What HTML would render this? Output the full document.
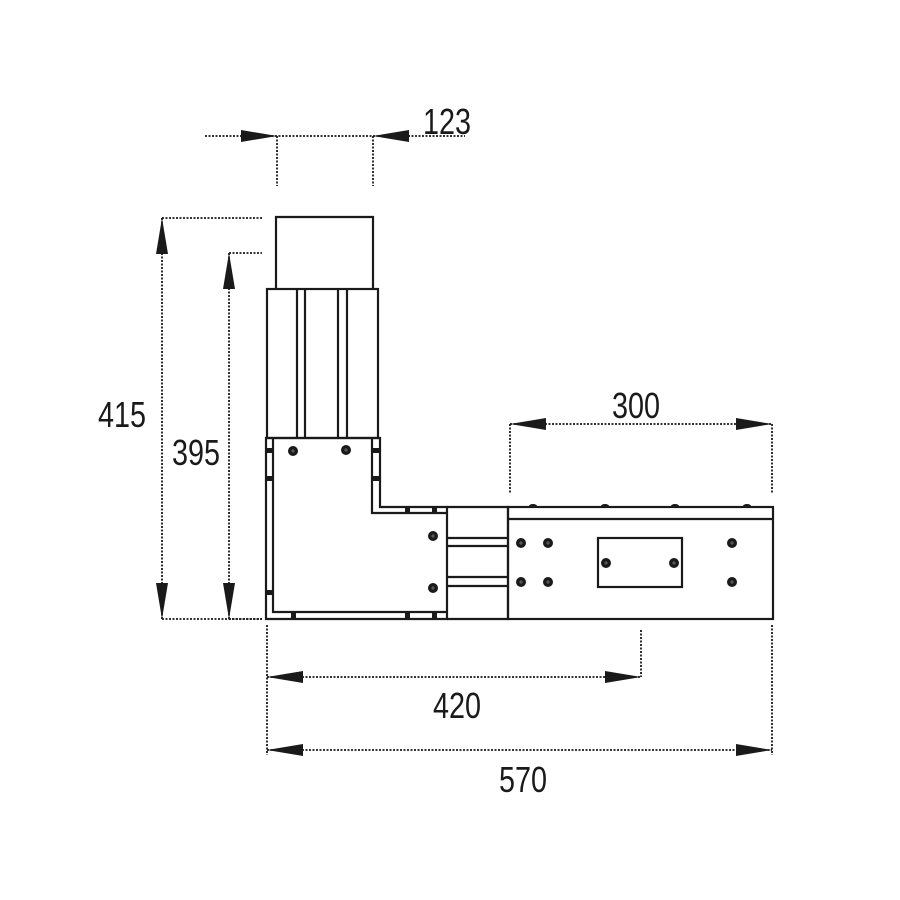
<!DOCTYPE html>
<html><head><meta charset="utf-8"><style>body{margin:0;background:#fff}svg{display:block}</style></head><body>
<svg width="900" height="900" viewBox="0 0 900 900" xmlns="http://www.w3.org/2000/svg">
<defs>
<g id="scr"><circle r="5" fill="#1a1a1a"/><path d="M-2,0H2M0,-2V2" stroke="#777" stroke-width="0.8"/></g>
</defs>
<g fill="none" stroke="#1a1a1a" stroke-width="2.2">
<!-- top cap -->
<path d="M276,289V217H373V289"/>
<!-- column -->
<rect x="267" y="289" width="111" height="149"/>
<path d="M297,289V438M305,289V438M338,289V438M347,289V438"/>
<!-- L outer -->
<path d="M266,438H380V507H447V619H266Z"/>
<path d="M273,438V612H447M372,438V513H447"/>
<!-- connector -->
<path d="M447,507H508V619H447M447,538H508M447,546H508M447,577H508M447,586H508"/>
<!-- right box -->
<rect x="508" y="507" width="265" height="112"/>
<path d="M508,519H773"/>
<rect x="598" y="538" width="84" height="49"/>
</g>
<g fill="#1a1a1a">
<rect x="266" y="448" width="7" height="5"/><rect x="266" y="476" width="7" height="5"/><rect x="266" y="590" width="7" height="5"/>
<rect x="372" y="448" width="8" height="5"/><rect x="372" y="476" width="8" height="5"/>
<rect x="405" y="507" width="5" height="6"/><rect x="432" y="507" width="5" height="6"/>
<rect x="291" y="612" width="5" height="7"/><rect x="405" y="612" width="5" height="7"/><rect x="432" y="612" width="5" height="7"/>
<ellipse cx="533" cy="506" rx="4" ry="2"/><ellipse cx="605" cy="506" rx="4" ry="2"/><ellipse cx="675" cy="506" rx="4" ry="2"/><ellipse cx="747" cy="506" rx="4" ry="2"/>
</g>
<use href="#scr" x="293" y="451"/><use href="#scr" x="346" y="450"/>
<use href="#scr" x="433" y="536"/><use href="#scr" x="433" y="588"/>
<use href="#scr" x="521" y="543"/><use href="#scr" x="548" y="543"/><use href="#scr" x="521" y="582"/><use href="#scr" x="548" y="582"/>
<use href="#scr" x="606" y="563"/><use href="#scr" x="674" y="563"/><use href="#scr" x="732" y="543"/><use href="#scr" x="732" y="582"/>
<!-- dimension lines -->
<g fill="none" stroke="#1a1a1a" stroke-width="1.8" stroke-dasharray="2,1.5">
<path d="M205,136H465M277,136V186M373,136V186"/>
<path d="M162,218V619M162,218H262M162,619H262"/>
<path d="M229,253V619M229,253H262M229,619H262"/>
<path d="M510,424H772M510,424V494M772,424V494"/>
<path d="M267,677H641M267,625V755M641,630V677"/>
<path d="M267,750H772M772,625V755"/>
</g>
<g fill="#1a1a1a">
<path d="M277,136L241,130V142Z"/><path d="M373,136L409,130V142Z"/>
<path d="M162,218L156,254H168Z"/><path d="M162,619L156,583H168Z"/>
<path d="M229,253L223,289H235Z"/><path d="M229,619L223,583H235Z"/>
<path d="M510,424L546,418V430Z"/><path d="M772,424L736,418V430Z"/>
<path d="M267,677L303,671V683Z"/><path d="M641,677L605,671V683Z"/>
<path d="M267,750L303,744V756Z"/><path d="M772,750L736,744V756Z"/>
</g>
<g font-family="Liberation Sans, sans-serif" font-size="36" fill="#1a1a1a" text-anchor="middle">
<text transform="translate(447,134) scale(0.8,1)">123</text>
<text transform="translate(122,427) scale(0.8,1)">415</text>
<text transform="translate(196,465) scale(0.8,1)">395</text>
<text transform="translate(636,418) scale(0.8,1)">300</text>
<text transform="translate(457,718) scale(0.8,1)">420</text>
<text transform="translate(523,792) scale(0.8,1)">570</text>
</g>
</svg>
</body></html>
